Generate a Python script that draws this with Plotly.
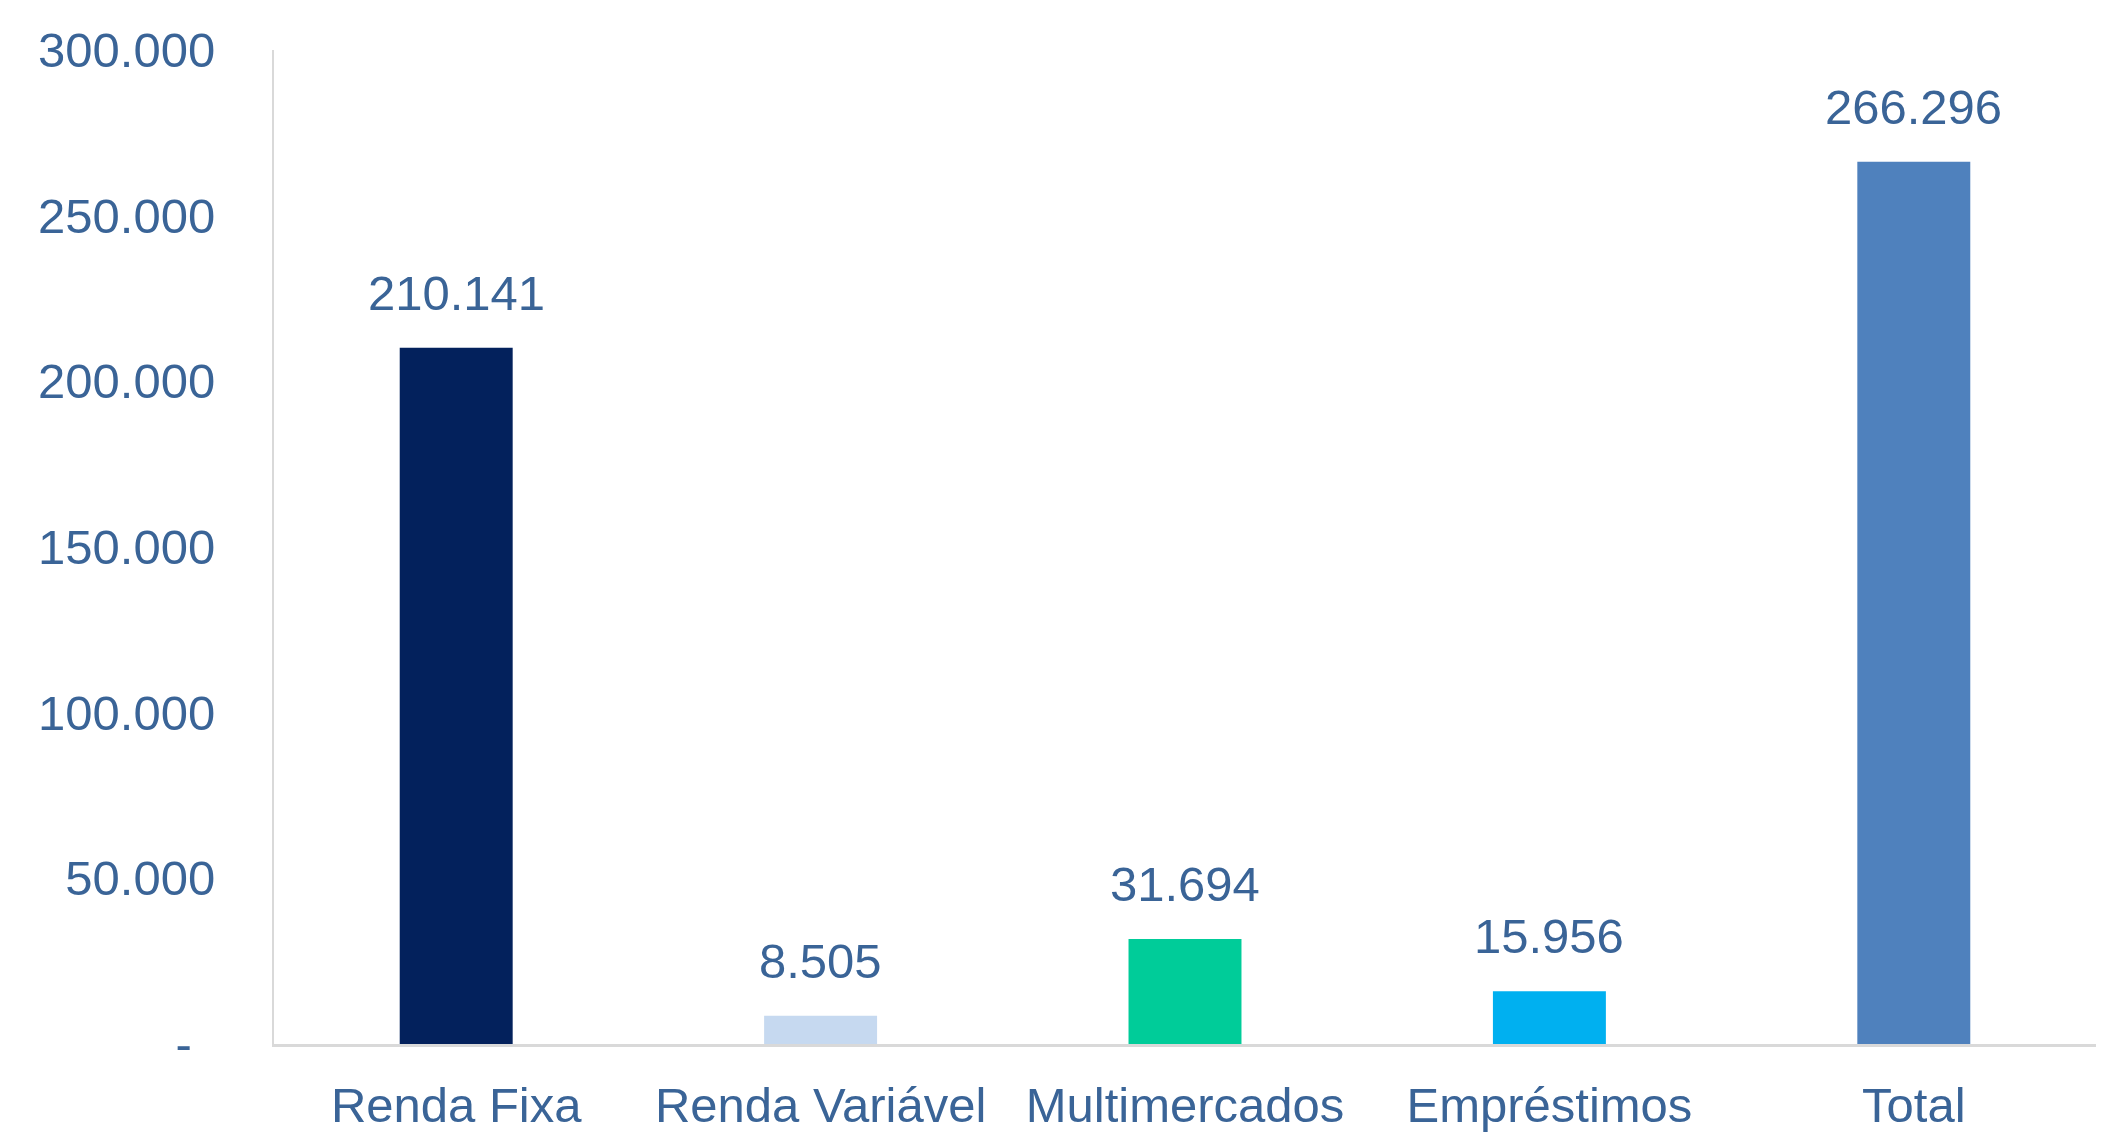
import plotly.graph_objects as go

categories = ["Renda Fixa", "Renda Variável", "Multimercados", "Empréstimos", "Total"]
values = [210141, 8505, 31694, 15956, 266296]
value_labels = ["210.141", "8.505", "31.694", "15.956", "266.296"]
bar_colors = ["#03215C", "#C6D9F0", "#00CC99", "#00B0F0", "#4F81BD"]
tick_vals = [0, 50000, 100000, 150000, 200000, 250000, 300000]
tick_text = ["-\u00a0\u2009", "50.000", "100.000", "150.000", "200.000", "250.000", "300.000"]

TEXT = "#3A6497"
FONT = "Liberation Sans, Arial, sans-serif"

fig = go.Figure()
fig.add_trace(go.Bar(
    x=categories, y=values, marker=dict(color=bar_colors, line=dict(width=0)),
    width=0.31, hoverinfo="skip",
))
for c, v, t in zip(categories, values, value_labels):
    fig.add_annotation(x=c, y=v, text=t, showarrow=False, yanchor="middle",
                       yshift=55, font=dict(family=FONT, size=49, color=TEXT))

fig.update_layout(
    width=2101, height=1125,
    margin=dict(l=266, r=13, t=42, b=89),
    paper_bgcolor="white", plot_bgcolor="white",
    showlegend=False,
    font=dict(family=FONT, size=49, color=TEXT),
)
fig.update_yaxes(
    range=[0, 300000], tickvals=tick_vals, ticktext=tick_text, automargin=False,
    showgrid=False, zeroline=False, showline=True, linecolor="#D9D9D9", linewidth=2,
    ticks="", ticklabelstandoff=47, tickfont=dict(family=FONT, size=49, color=TEXT),
)
fig.update_xaxes(
    automargin=False,
    showgrid=False, showline=True, linecolor="#D9D9D9", linewidth=3,
    ticks="", ticklabelstandoff=16, tickfont=dict(family=FONT, size=49, color=TEXT),
)

fig.write_html("out.html")
